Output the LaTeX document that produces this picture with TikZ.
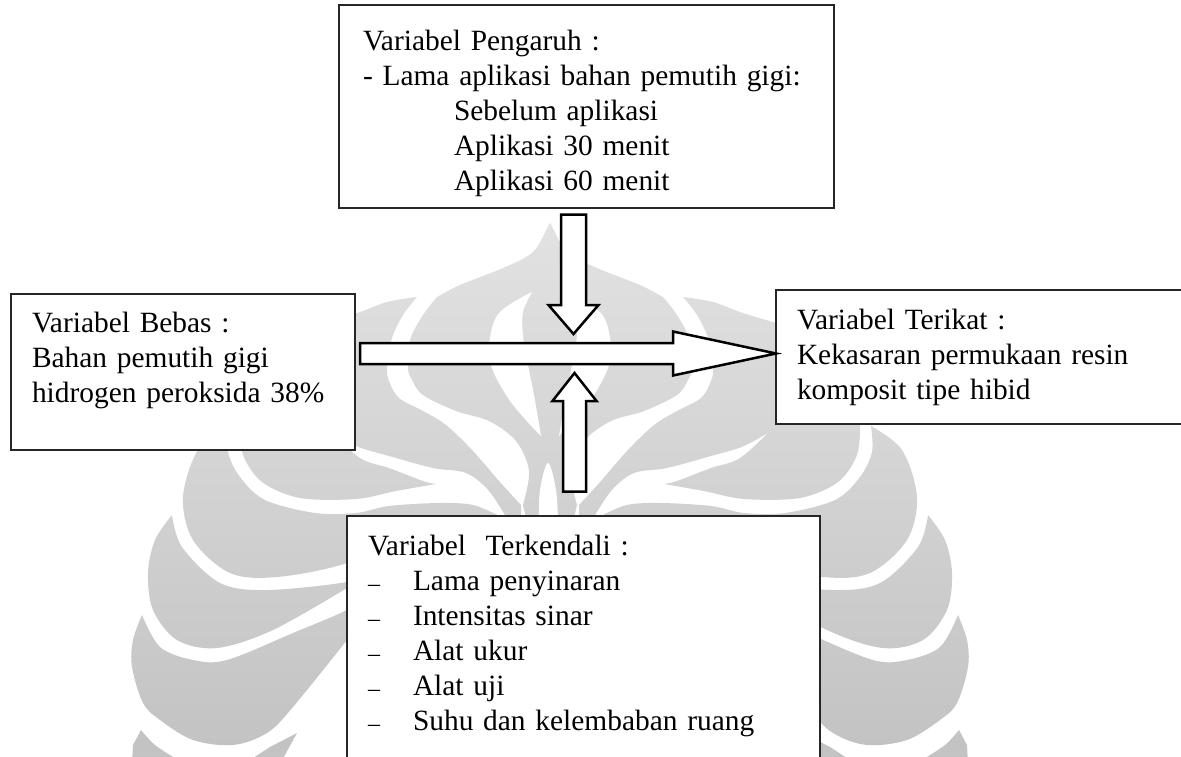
\documentclass[tikz,border=0pt]{standalone}
\usepackage{fontspec}
\setmainfont{Liberation Serif}
\usetikzlibrary{calc}
\newcommand{\wmhalf}{%
  % dome and centre column
  plot[smooth,tension=.55] coordinates {(551,226) (549,225) (533,252) (503,268) (460,285) (437,297)}
  -- plot[smooth,tension=.55] coordinates {(437,297) (423,315) (410,340) (408,367) (411,378) (423,395) (456,411) (489,421) (516,441) (529,471) (523,505)}
  -- (527,522) -- (551,522) -- cycle
  % wing and body
  plot[smooth,tension=.55] coordinates {(417,297) (387,302) (360,312) (324,323)}
  -- (324,428)
  -- plot[smooth,tension=.55] coordinates {(324,428) (356,446) (389,456) (433,468) (466,473) (489,491) (509,522)}
  -- (521,522) -- plot[smooth,tension=.55] coordinates {(521,505) (499,481) (473,451) (446,425) (423,411) (399,398) (389,381) (387,367) (392,338) (403,315) (417,297)}
  -- cycle
  % second lobe
  plot[smooth,tension=.55] coordinates {(436,484) (423,481) (389,468) (360,458) (327,428) (320,420)}
  -- (240,420)
  -- plot[smooth,tension=.55] coordinates {(240,425) (243,455) (262,482) (300,498) (356,499) (396,491) (436,484)}
  -- cycle
  % third lobe
  plot[smooth,tension=.55] coordinates {(229,426) (198,450) (183,497) (193,540) (230,573) (277,577) (347,563) (420,530)}
  -- (500,522)
  -- plot[smooth,tension=.55] coordinates {(499,516) (473,505) (439,503) (389,506) (356,513) (315,513) (265,500) (240,477) (228,452) (229,426)}
  -- cycle
  % fourth lobe
  plot[smooth,tension=.55] coordinates {(172,515) (182,547) (220,583) (267,590) (347,582) (380,570)}
  -- (380,600)
  -- plot[smooth,tension=.55] coordinates {(347,588) (273,630) (217,648) (177,640) (153,610) (148,573) (155,540) (172,515)}
  -- cycle
  % fifth lobe
  plot[smooth,tension=.55] coordinates {(142,615) (160,647) (193,660) (227,660) (293,633) (347,610) (380,590)}
  -- (380,620)
  -- plot[smooth,tension=.55] coordinates {(347,640) (293,707) (267,733) (233,745) (193,740) (160,720) (143,703) (132,667) (133,640) (142,615)}
  -- cycle
  % bottom pieces
  plot[smooth,tension=.55] coordinates {(141,730) (155,745) (178,760)} -- (178,764) -- (132,764) -- (133,745) -- cycle
  (297,733) -- (270,747) -- (250,760) -- (250,764) -- (280,764) -- cycle
}
\newcommand{\wmflame}{%
  plot[smooth,tension=.6] coordinates {(532,292) (500,312) (490,338) (491,365) (506,395) (524,418) (541,436)}
  -- plot[smooth,tension=.6] coordinates {(541,436) (534,395) (527,360) (523,335) (523,312) (532,292)}
  -- cycle
}
\tikzset{
  x=1pt,y=-1pt,
  textbox/.style={draw=black!85,line width=1.4pt,fill=white,anchor=north west,
    inner ysep=0pt,outer sep=0pt,align=left,
    font=\fontsize{29.4}{35}\selectfont},
  watermark/.style={top color=wmtop,middle color=wmmid,bottom color=wmbot},
  blockarrow/.style n args={3}{draw=black,line width=2.5pt,fill=white,miter limit=10,
    to path={let \p1=($(\tikztotarget)!#3!(\tikztostart)$) in
      ($(\tikztostart)!#1!90:(\tikztotarget)$)
      -- ($(\p1)!#1!-90:(\tikztostart)$)
      -- ($(\p1)!#2!-90:(\tikztostart)$)
      -- (\tikztotarget)
      -- ($(\p1)!#2!90:(\tikztostart)$)
      -- ($(\p1)!#1!90:(\tikztostart)$)
      -- ($(\tikztostart)!#1!-90:(\tikztotarget)$)
      -- cycle}},
}
\definecolor{wmtop}{HTML}{E2E2E2}
\definecolor{wmmid}{HTML}{BCBCBC}
\definecolor{wmbot}{HTML}{C2C2C2}
\newcommand{\dashmark}{\leavevmode\hbox to 45pt{\raisebox{-1.5pt}{\fontsize{24}{24}\selectfont –}\hfil}}
\begin{document}
\begin{tikzpicture}
\useasboundingbox (0,0) rectangle (1181,757);
\fill[white] (0,0) rectangle (1181,757);
% watermark
\shade[watermark] \wmhalf;
\begin{scope}[shift={(1100,0)},xscale=-1]
  \shade[watermark] \wmhalf;
  \fill[white] \wmflame;
\end{scope}
\fill[white] \wmflame;
\fill[white] plot[smooth,tension=.6] coordinates {(539,522) (540,490) (548,463) (556,490) (558,522)} -- cycle;
% boxes
\node[textbox,inner xsep=24pt,text width=447pt,text height=46pt,text depth=157pt] (boxTop) at (339,5)
  {Variabel Pengaruh :\\
   - Lama aplikasi bahan pemutih gigi:\\
   \hspace*{91pt}Sebelum aplikasi\\
   \hspace*{91pt}Aplikasi 30 menit\\
   \hspace*{91pt}Aplikasi 60 menit};
\node[textbox,inner xsep=21pt,text width=302pt,text height=38pt,text depth=118pt] (boxLeft) at (11,294)
  {Variabel Bebas :\\
   Bahan pemutih gigi\\
   hidrogen peroksida 38\%};
\node[textbox,inner xsep=21pt,text width=400pt,text height=39pt,text depth=95pt] (boxRight) at (776,290)
  {Variabel Terikat :\\
   Kekasaran permukaan resin\\
   komposit tipe hibid};
\node[textbox,inner xsep=21pt,text width=431pt,text height=39pt,text depth=231pt] (boxBottom) at (347,516)
  {Variabel\ \ Terkendali :\\
   \dashmark Lama penyinaran\\
   \dashmark Intensitas sinar\\
   \dashmark Alat ukur\\
   \dashmark Alat uji\\
   \dashmark Suhu dan kelembaban ruang};
% connectors
\coordinate (hTail) at (360,353.5);
\coordinate (hTip) at (boxRight.west |- hTail);
\coordinate (dTail) at (573.5,214.5);
\coordinate (dTip) at (573.5,334);
\coordinate (uTail) at (574.5,491.5);
\coordinate (uTip) at (574.5,373);
\draw[blockarrow={10.5pt}{22pt}{103pt}] (hTail) to (hTip);
\draw[blockarrow={12.5pt}{25pt}{29pt}] (dTail) to (dTip);
\draw[blockarrow={11.5pt}{22pt}{28pt}] (uTail) to (uTip);
\end{tikzpicture}
\end{document}
